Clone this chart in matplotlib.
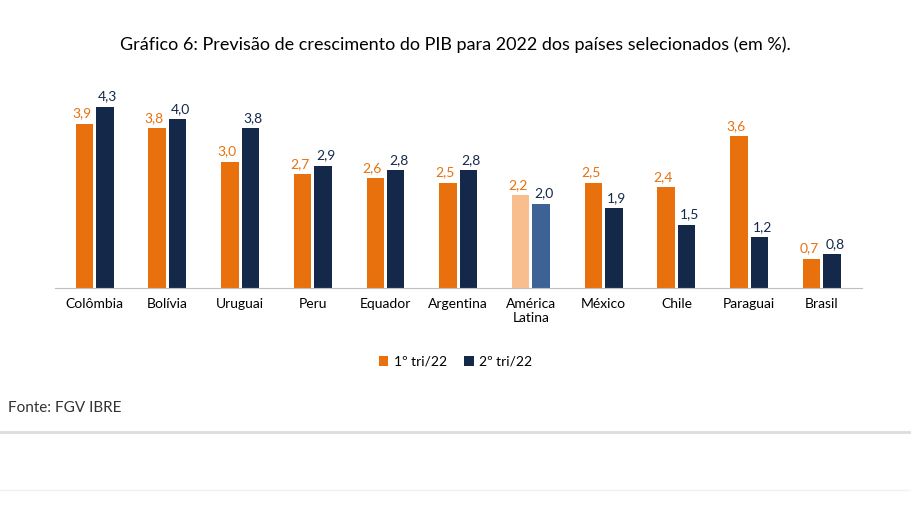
import matplotlib
matplotlib.use("Agg")
import matplotlib.pyplot as plt
import numpy as np

categories = ["Colômbia", "Bolívia", "Uruguai", "Peru", "Equador", "Argentina", "América\nLatina", "México", "Chile", "Paraguai", "Brasil"]
tri1 = [3.9, 3.8, 3.0, 2.7, 2.6, 2.5, 2.2, 2.5, 2.4, 3.6, 0.7]
tri2 = [4.3, 4.0, 3.8, 2.9, 2.8, 2.8, 2.0, 1.9, 1.5, 1.2, 0.8]
labels = ["1º tri/22", "2º tri/22"]

plt.rcParams["font.family"] = "Lato"
fig = plt.figure(figsize=(9.11, 5.12), dpi=100)
ax = fig.add_axes([0.060, 0.4375, 0.886, 0.395])
x = np.arange(len(categories))
w = 0.24
c1 = ["#E8710D"] * len(x); c2 = ["#14294A"] * len(x)
c1[6] = "#F9BE8E"; c2[6] = "#3C6296"
b1 = ax.bar(x - w/2 - 0.02, tri1, w, color=c1, label=labels[0])
b2 = ax.bar(x + w/2 + 0.02, tri2, w, color=c2, label=labels[1])
for i in x:
    ax.text(i - w/2 - 0.06, tri1[i] + 0.1, f"{tri1[i]:.1f}".replace(".", ","), ha="center", va="bottom", color="#E8710D", fontsize=10)
    ax.text(i + w/2 + 0.06, tri2[i] + 0.1, f"{tri2[i]:.1f}".replace(".", ","), ha="center", va="bottom", color="#14294A", fontsize=10)
ax.set_xlim(-0.55, len(x) - 0.45)
ax.set_ylim(0, 4.8)
ax.set_yticks([])
ax.set_xticks(x)
ax.set_xticklabels(categories, fontsize=10)
ax.tick_params(axis="x", length=0, pad=7)
for s in ["top", "right", "left"]:
    ax.spines[s].set_visible(False)
ax.spines["bottom"].set_color("#BFBFBF")
fig.text(0.5, 0.912, "Gráfico 6: Previsão de crescimento do PIB para 2022 dos países selecionados (em %).", ha="center", va="center", fontsize=13)
fig.legend(handles=[b1[0], b2[0]], labels=labels, loc="center", bbox_to_anchor=(0.5, 0.293), ncol=2, frameon=False, fontsize=10, handlelength=0.7, handleheight=0.7, columnspacing=1.2, handletextpad=0.4)
fig.text(0.009, 0.203, "Fonte: FGV IBRE", ha="left", va="center", fontsize=11, color="#333333")
fig.add_artist(plt.Line2D([0, 1], [0.156, 0.156], color="#DDDDDD", lw=2))
fig.add_artist(plt.Line2D([0, 1], [0.043, 0.043], color="#F2F2F2", lw=1))
fig.savefig("out.png", dpi=100)
